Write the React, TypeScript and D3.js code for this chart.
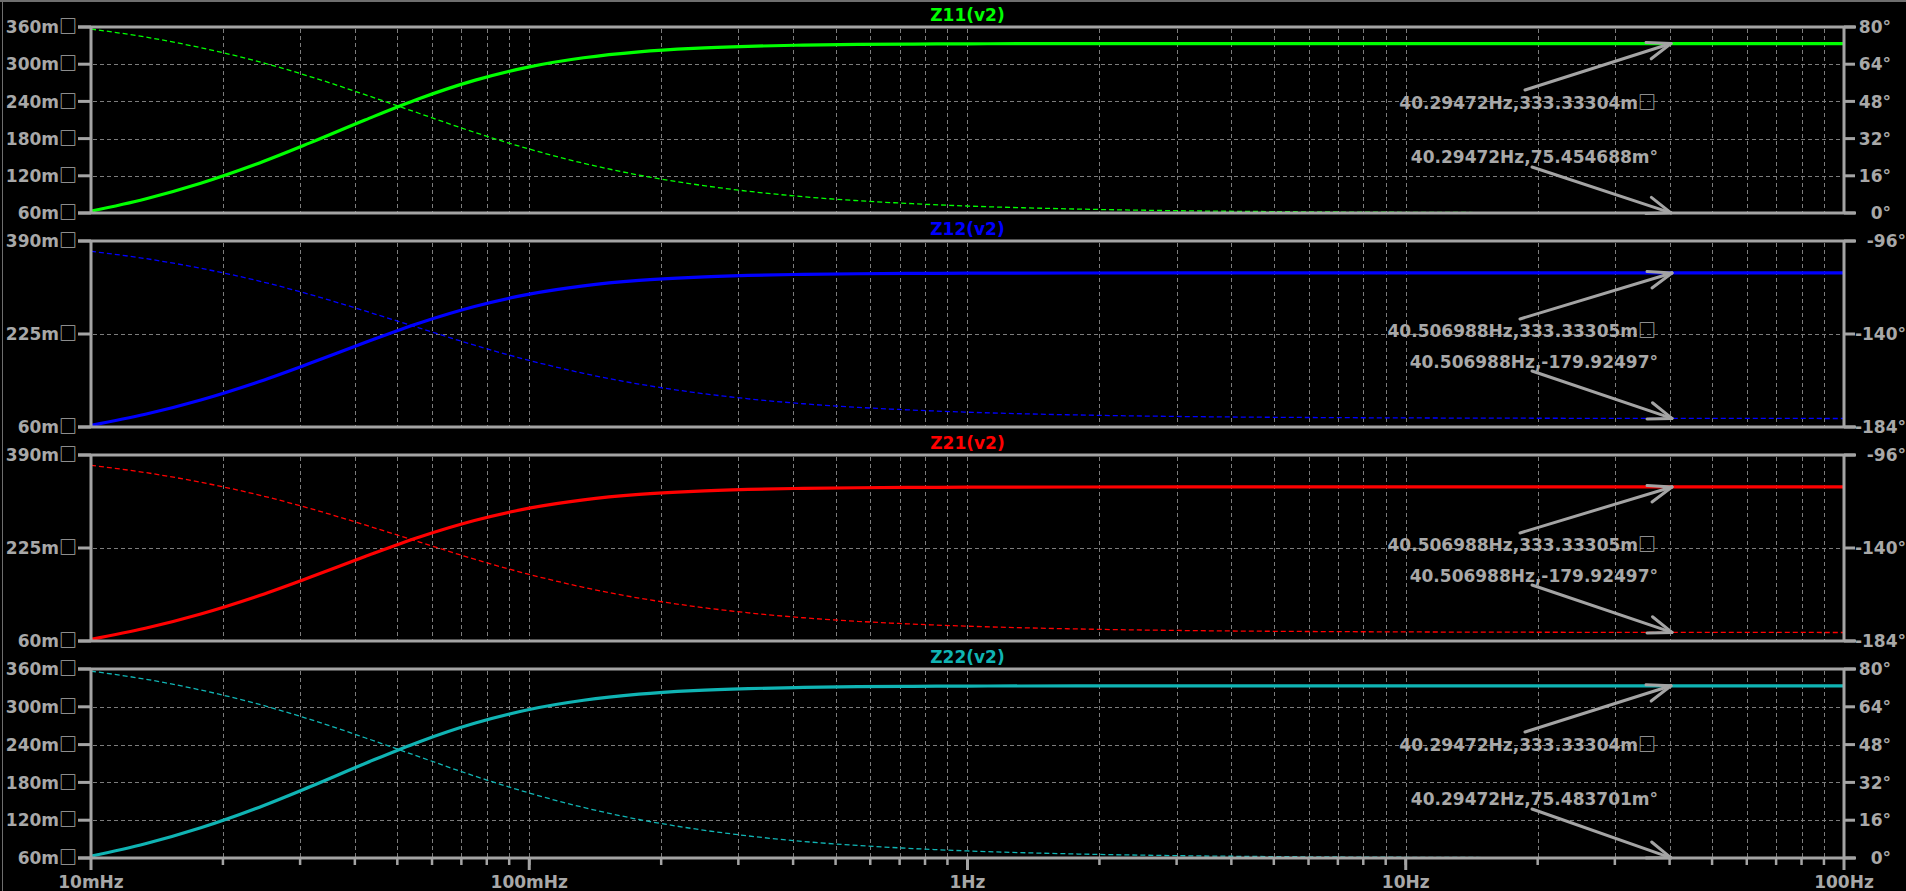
import React from "react";
import * as d3 from "d3";

// ---------- data ----------
const freqHz = [0.01, 0.0133, 0.0178, 0.0237, 0.0316, 0.0422, 0.0562, 0.075, 0.1, 0.133, 0.178, 0.237, 0.316, 0.422, 0.562, 0.75, 1, 1.78, 3.16, 5.62, 10, 31.6, 100];

// magnitudes in milli-ohm, phases in degrees
const z11Mag = [62.9, 82.6, 108.0, 138.2, 173.1, 210.0, 244.7, 273.9, 295.7, 310.4, 320.0, 325.6, 328.9, 330.8, 331.9, 332.5, 332.9, 333.19, 333.29, 333.32, 333.33, 333.33, 333.33];
const z11Phase = [79.1, 75.7, 71.1, 65.5, 58.7, 50.9, 42.8, 34.7, 27.5, 21.4, 16.3, 12.4, 9.35, 7.0, 5.3, 4.0, 3.0, 1.7, 0.94, 0.53, 0.3, 0.09, 0.03];

const z12Mag = [62.9, 82.6, 108.0, 138.2, 173.1, 210.0, 244.7, 273.9, 295.7, 310.4, 320.0, 325.6, 328.9, 330.8, 331.9, 332.5, 332.9, 333.19, 333.29, 333.32, 333.33, 333.33, 333.33];
const z12Phase = [-100.9, -104.3, -108.9, -114.5, -121.3, -129.1, -137.2, -145.3, -152.5, -158.6, -163.7, -167.6, -170.65, -173.0, -174.7, -176.0, -177.0, -178.3, -179.06, -179.47, -179.7, -179.91, -179.97];

const z21Mag = [62.9, 82.6, 108.0, 138.2, 173.1, 210.0, 244.7, 273.9, 295.7, 310.4, 320.0, 325.6, 328.9, 330.8, 331.9, 332.5, 332.9, 333.19, 333.29, 333.32, 333.33, 333.33, 333.33];
const z21Phase = [-100.9, -104.3, -108.9, -114.5, -121.3, -129.1, -137.2, -145.3, -152.5, -158.6, -163.7, -167.6, -170.65, -173.0, -174.7, -176.0, -177.0, -178.3, -179.06, -179.47, -179.7, -179.91, -179.97];

const z22Mag = [62.9, 82.6, 108.0, 138.2, 173.1, 210.0, 244.7, 273.9, 295.7, 310.4, 320.0, 325.6, 328.9, 330.8, 331.9, 332.5, 332.9, 333.19, 333.29, 333.32, 333.33, 333.33, 333.33];
const z22Phase = [79.1, 75.7, 71.1, 65.5, 58.7, 50.9, 42.8, 34.7, 27.5, 21.4, 16.3, 12.4, 9.35, 7.0, 5.3, 4.0, 3.0, 1.7, 0.94, 0.53, 0.3, 0.09, 0.03];

const paneTitles = ["Z11(v2)", "Z12(v2)", "Z21(v2)", "Z22(v2)"];
const paneColors = ["#00ff00", "#0000ff", "#ff0000", "#10b4b4"];

const magTicksA = [60, 120, 180, 240, 300, 360];
const phaseTicksA = [0, 16, 32, 48, 64, 80];
const magTicksB = [60, 225, 390];
const phaseTicksB = [-184, -140, -96];

const xDecades = [0.01, 0.1, 1, 10, 100];
const xDecadeLabels = ["10mHz", "100mHz", "1Hz", "10Hz", "100Hz"];

const cursorFreq = [40.29472, 40.506988, 40.506988, 40.29472];
const cursorMag = [333.33304, 333.33305, 333.33305, 333.33304];
const cursorPhase = [0.075454688, -179.92497, -179.92497, 0.075483701];
const cursorMagText = ["40.29472Hz,333.33304m", "40.506988Hz,333.33305m", "40.506988Hz,333.33305m", "40.29472Hz,333.33304m"];
const cursorPhaseText = ["40.29472Hz,75.454688m°", "40.506988Hz,-179.92497°", "40.506988Hz,-179.92497°", "40.29472Hz,75.483701m°"];
const unitBox = "\u25A1";

// ---------- layout ----------
const W = 1906;
const H = 891;
const X0 = 91;
const X1 = 1844;
const paneTops = [27, 241, 455, 669];
const paneHeights = [186, 186, 186, 189];
const AXIS = "#a4a4a4";
const TEXT = "#a8a8a8";
const GRID = "#7c7c7c";
const FONT = "'DejaVu Sans', sans-serif";
const BOXFONT = "'Noto Sans CJK SC', 'DejaVu Sans', sans-serif";

const x = d3.scaleLog().domain([0.01, 100]).range([X0, X1]);

const minorFreqs: number[] = [];
for (let e = -2; e < 2; e++) {
  for (let k = 1; k <= 9; k++) {
    const f = k * Math.pow(10, e);
    if (f > 0.01 * 1.0001 && f < 100 * 0.9999) minorFreqs.push(+f.toPrecision(6));
  }
}

function Box() {
  return (
    <tspan fontFamily={BOXFONT} fontWeight="bold" fontSize={18}>
      {unitBox}
    </tspan>
  );
}

type PaneProps = {
  i: number;
  mag: number[];
  phase: number[];
  magTicks: number[];
  phaseTicks: number[];
  labelEnd: number;
  layoutB: boolean;
  bottomAxis: boolean;
};

function Arrow({ x1, y1, x2, y2 }: { x1: number; y1: number; x2: number; y2: number }) {
  const ang = Math.atan2(y1 - y2, x1 - x2);
  const L = 25;
  const a = (20 * Math.PI) / 180;
  const p1 = [x2 + L * Math.cos(ang + a), y2 + L * Math.sin(ang + a)];
  const p2 = [x2 + L * Math.cos(ang - a), y2 + L * Math.sin(ang - a)];
  return (
    <g stroke={AXIS} strokeWidth={3} fill="none" strokeLinecap="round">
      <line x1={x1} y1={y1} x2={x2} y2={y2} />
      <line x1={x2} y1={y2} x2={p1[0]} y2={p1[1]} />
      <line x1={x2} y1={y2} x2={p2[0]} y2={p2[1]} />
    </g>
  );
}

function Pane({ i, mag, phase, magTicks, phaseTicks, labelEnd, layoutB, bottomAxis }: PaneProps) {
  const top = paneTops[i];
  const bottom = top + paneHeights[i];
  const color = paneColors[i];
  const yMag = d3.scaleLinear().domain([magTicks[0], magTicks[magTicks.length - 1]]).range([bottom, top]);
  const yPh = d3.scaleLinear().domain([phaseTicks[0], phaseTicks[phaseTicks.length - 1]]).range([bottom, top]);

  const magLine = d3
    .line<number>()
    .x((_, j) => x(freqHz[j]))
    .y((d) => yMag(d))
    .curve(d3.curveMonotoneX);
  const phLine = d3
    .line<number>()
    .x((_, j) => x(freqHz[j]))
    .y((d) => yPh(d))
    .curve(d3.curveMonotoneX);

  const clipId = `clip${i}`;
  const tipX = x(cursorFreq[i]);
  const tipMagY = yMag(cursorMag[i]);
  const tipPhY = yPh(cursorPhase[i]);
  const t1 = layoutB ? top + 96 : top + 82;
  const t2 = layoutB ? top + 127 : top + 136;
  const a1 = layoutB ? { x: 1520, y: top + 78 } : { x: 1525, y: top + 63 };
  const a2 = layoutB ? { x: 1532, y: top + 130 } : { x: 1532, y: top + 140 };

  return (
    <g>
      <defs>
        <clipPath id={clipId}>
          <rect x={X0} y={top} width={X1 - X0} height={bottom - top} />
        </clipPath>
      </defs>
      {/* grid */}
      <g stroke={GRID} strokeWidth={1} strokeDasharray="4,3">
        {minorFreqs.map((f) => (
          <line key={"v" + f} x1={Math.round(x(f)) + 0.5} x2={Math.round(x(f)) + 0.5} y1={top + 2} y2={bottom - 1} />
        ))}
        {magTicks.slice(1, -1).map((m) => (
          <line key={"h" + m} x1={X0 + 2} x2={X1 - 1} y1={Math.round(yMag(m)) + 0.5} y2={Math.round(yMag(m)) + 0.5} />
        ))}
      </g>
      {/* traces */}
      <g clipPath={`url(#${clipId})`}>
        <path d={phLine(phase) || ""} fill="none" stroke={color} strokeWidth={1.3} strokeDasharray="5,3" />
        <path d={magLine(mag) || ""} fill="none" stroke={color} strokeWidth={3.2} />
      </g>
      {/* frame */}
      <g stroke={AXIS} strokeWidth={3} fill="none">
        <line x1={X0 - 13} x2={X1 + 12} y1={top} y2={top} />
        <line x1={X0 - 13} x2={X1 + 12} y1={bottom} y2={bottom} />
        <line x1={X0} x2={X0} y1={top} y2={bottom} />
        <line x1={X1} x2={X1} y1={top} y2={bottom} />
        {magTicks.map((m) => (
          <line key={"lt" + m} x1={X0 - 13} x2={X0} y1={yMag(m)} y2={yMag(m)} />
        ))}
        {phaseTicks.map((p) => (
          <line key={"rt" + p} x1={X1} x2={X1 + 11} y1={yPh(p)} y2={yPh(p)} />
        ))}
        {bottomAxis &&
          minorFreqs.map((f) => (
            <line key={"bt" + f} x1={x(f)} x2={x(f)} y1={bottom} y2={bottom + 7} strokeWidth={2.5} />
          ))}
        {bottomAxis &&
          xDecades.map((f) => (
            <line key={"bd" + f} x1={x(f)} x2={x(f)} y1={bottom} y2={bottom + 12} strokeWidth={3} />
          ))}
      </g>
      {/* labels */}
      <g fill={TEXT} fontFamily={FONT} fontWeight="bold" fontSize={17}>
        {magTicks.map((m) => (
          <text key={"ml" + m} x={77} y={yMag(m)} dy="0.36em" textAnchor="end">
            {`${m}m`}
            <Box />
          </text>
        ))}
        {phaseTicks.map((p) => (
          <text key={"pl" + p} x={labelEnd} y={yPh(p)} dy="0.36em" textAnchor="end">
            {`${p}°`}
          </text>
        ))}
        {bottomAxis &&
          xDecades.map((f, j) => (
            <text key={"xl" + f} x={x(f)} y={888} textAnchor="middle">
              {xDecadeLabels[j]}
            </text>
          ))}
        <text x={1656} y={t1} textAnchor="end">
          {cursorMagText[i]}
          <Box />
        </text>
        <text x={1658} y={t2} textAnchor="end">
          {cursorPhaseText[i]}
        </text>
      </g>
      <text x={(X0 + X1) / 2} y={top - 6} textAnchor="middle" fill={color} fontFamily={FONT} fontWeight="bold" fontSize={17}>
        {paneTitles[i]}
      </text>
      <Arrow x1={a1.x} y1={a1.y} x2={tipX} y2={tipMagY} />
      <Arrow x1={a2.x} y1={a2.y} x2={tipX} y2={tipPhY} />
    </g>
  );
}

export default function App() {
  return (
    <svg
      width={W}
      height={H}
      viewBox={`0 0 ${W} ${H}`}
      style={{ position: "absolute", left: 0, top: 0, background: "#000", display: "block" }}
    >
      <rect x={0} y={0} width={W} height={H} fill="#000" />
      <line x1={0} x2={W} y1={1} y2={1} stroke="#6e6e6e" strokeWidth={2} />
      <line x1={2.5} x2={2.5} y1={0} y2={H} stroke="#6e6e6e" strokeWidth={1} />
      <Pane i={0} mag={z11Mag} phase={z11Phase} magTicks={magTicksA} phaseTicks={phaseTicksA} labelEnd={1891} layoutB={false} bottomAxis={false} />
      <Pane i={1} mag={z12Mag} phase={z12Phase} magTicks={magTicksB} phaseTicks={phaseTicksB} labelEnd={1906} layoutB={true} bottomAxis={false} />
      <Pane i={2} mag={z21Mag} phase={z21Phase} magTicks={magTicksB} phaseTicks={phaseTicksB} labelEnd={1906} layoutB={true} bottomAxis={false} />
      <Pane i={3} mag={z22Mag} phase={z22Phase} magTicks={magTicksA} phaseTicks={phaseTicksA} labelEnd={1891} layoutB={false} bottomAxis={true} />
    </svg>
  );
}
